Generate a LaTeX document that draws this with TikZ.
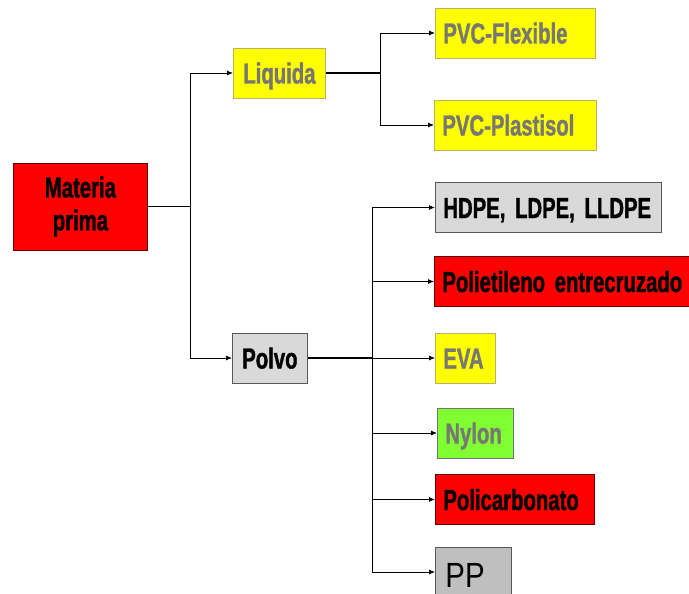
\documentclass[tikz,border=0pt]{standalone}
\usepackage{fontspec}
\setmainfont{Liberation Sans}[FakeStretch=0.70, BoldFeatures={FakeBold=1.2}]
\newfontfamily\ppfont{Liberation Sans}[FakeStretch=0.84]
\usetikzlibrary{arrows.meta}
\definecolor{boxred}{rgb}{1,0,0}
\definecolor{boxyellow}{rgb}{1,1,0}
\definecolor{boxgray}{rgb}{0.85,0.85,0.85}
\definecolor{ppgray}{rgb}{0.75,0.75,0.75}
\definecolor{boxgreen}{rgb}{0.5,1,0.2}
\definecolor{textgray}{rgb}{0.47,0.47,0.45}
\definecolor{edgeyellow}{rgb}{0.72,0.7,0.4}

% narrow bold labels with tight word spacing
\newcommand\labelfont{\bfseries\fontsize{29}{33}\selectfont
  \fontdimen2\font=5.5pt\fontdimen3\font=0pt\fontdimen4\font=0pt}

\tikzset{
  box/.style={draw=black!70, line width=0.8pt, anchor=west, minimum height=50pt,
    inner xsep=8pt, inner ysep=0pt, font=\labelfont,
    text height=21pt, text depth=0pt, align=left},
  redbox/.style={box, fill=boxred, text=black, draw=black!60!red},
  yellowbox/.style={box, fill=boxyellow, text=textgray, draw=edgeyellow},
  graybox/.style={box, fill=boxgray, text=black, draw=black!65},
  greenbox/.style={box, fill=boxgreen, text=textgray, draw=black!55},
  arr/.style={-{Latex[length=6pt,width=5pt]}, line width=0.8pt},
  trunk/.style={line width=1.6pt}
}

\begin{document}
\begin{tikzpicture}[x=1pt,y=-1pt]
\useasboundingbox (0,0) rectangle (689,594);

% root and first level
\node[redbox, align=center, minimum width=134pt, minimum height=87pt,
  text height=, text depth=] (root) at (13,206.5) {Materia\\prima};
\node[yellowbox, minimum width=92pt, align=center] (liq) at (233,73) {Liquida};
\node[graybox, minimum width=75pt, align=center] (polvo) at (232,358) {Polvo};

% liquid branch
\node[yellowbox, text width=144pt] (flex) at (435,33) {PVC-Flexible};
\node[yellowbox, text width=146pt] (plast) at (434,125) {PVC-Plastisol};

% powder branch
\node[graybox, text width=210pt] (hdpe) at (435,207.5) {HDPE, LDPE, LLDPE};
\node[redbox, text width=300pt] (pex) at (434,281.5) {Polietileno entrecruzado};
\node[yellowbox, text width=44pt] (eva) at (435,358) {EVA};
\node[greenbox, text width=60pt] (nylon) at (437,433) {Nylon};
\node[redbox, text width=143pt] (pc) at (435,499.5) {Policarbonato};
\node[box, fill=ppgray, draw=black!65, text width=56pt, inner xsep=10pt,
  font=\ppfont\fontsize{35}{35}\selectfont, text height=30pt] (pp) at (435,572) {PP};

% junctions
\coordinate (jroot) at (190,206.5);
\coordinate (jliq) at (380,73);
\coordinate (jpolvo) at (372,358);

\draw[line width=0.8pt] (root.east) -- (jroot);
\draw[arr] (jroot) |- (liq.west);
\draw[arr] (jroot) |- (polvo.west);

\draw[trunk] (liq.east) -- (jliq);
\draw[arr] (jliq) |- (flex.west);
\draw[arr] (jliq) |- (plast.west);

\draw[trunk] (polvo.east) -- (jpolvo);
\draw[arr] (jpolvo) -- (eva.west);
\draw[arr] (jpolvo) |- (hdpe.west);
\draw[arr] (jpolvo) |- (pex.west);
\draw[arr] (jpolvo) |- (nylon.west);
\draw[arr] (jpolvo) |- (pc.west);
\draw[arr] (jpolvo) |- (pp.west);
\end{tikzpicture}
\end{document}
